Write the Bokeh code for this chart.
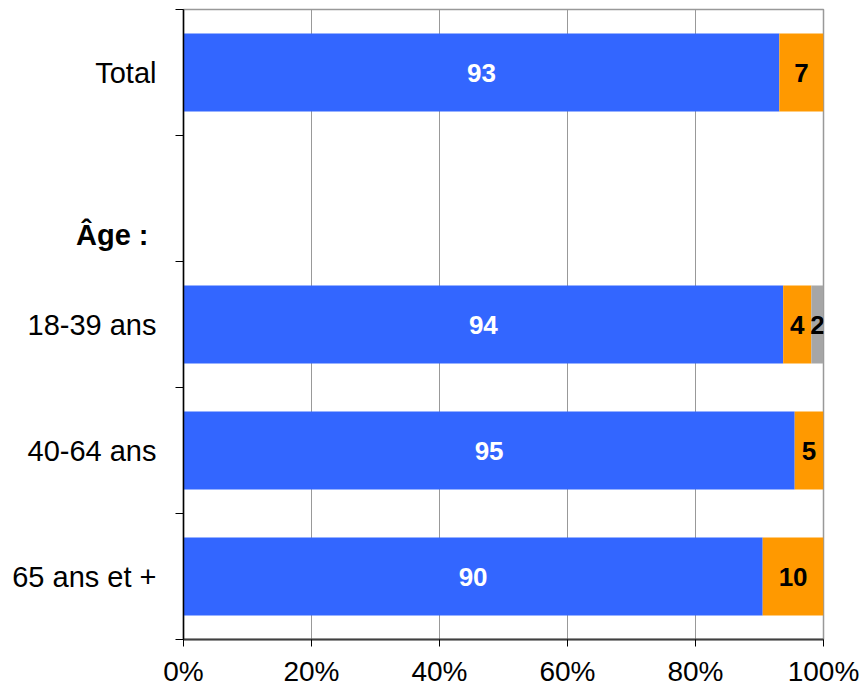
from bokeh.plotting import figure
from bokeh.models import ColumnDataSource, Range1d, FixedTicker, LinearAxis
from bokeh.core.properties import value
from bokeh.embed import file_html
from bokeh.resources import INLINE

# Data
categories = ["Total", "Âge :", "18-39 ans", "40-64 ans", "65 ans et +"]
bar_categories = ["Total", "18-39 ans", "40-64 ans", "65 ans et +"]
blue_vals = [93.1, 93.7, 95.5, 90.5]
orange_vals = [6.9, 4.4, 4.5, 9.5]
gray_vals = [0.0, 1.9, 0.0, 0.0]
blue_labels = ["93", "94", "95", "90"]
orange_labels = ["7", "4", "5", "10"]
gray_labels = ["", "2", "", ""]
x_ticks = [0, 20, 40, 60, 80, 100]
x_tick_labels = ["0%", "20%", "40%", "60%", "80%", "100%"]

FONT = "Liberation Sans"
BLUE = "#3366FF"
ORANGE = "#FF9900"
GRAY = "#A6A6A6"

n = len(categories)
ypos = {c: n - 1 - i for i, c in enumerate(categories)}
bar_y = [ypos[c] for c in bar_categories]

src = ColumnDataSource(dict(y=bar_y, blue=blue_vals, orange=orange_vals, gray=gray_vals))

p = figure(frame_width=640, frame_height=630, output_backend="svg", toolbar_location=None,
           x_range=Range1d(0, 100), y_range=Range1d(-0.5, n - 0.5),
           min_border_left=183, min_border_top=9, min_border_right=38, min_border_bottom=40)
p.background_fill_color = "white"
p.border_fill_color = "white"
p.outline_line_color = "#999999"
p.outline_line_width = 1.5

p.hbar_stack(["blue", "orange", "gray"], y="y", height=0.62, color=[BLUE, ORANGE, GRAY],
             line_color=None, source=src)

# segment labels
def seg_text(starts, vals, labels, color):
    xs, ys, ts = [], [], []
    for s, v, t, y in zip(starts, vals, labels, bar_y):
        if t:
            xs.append(s + v / 2)
            ys.append(y)
            ts.append(t)
    p.text(x=xs, y=ys, text=ts, text_color=color, text_font=value(FONT),
           text_font_style="bold", text_font_size="26px", text_align="center",
           text_baseline="middle")

seg_text([0] * len(blue_vals), blue_vals, blue_labels, "white")
seg_text(blue_vals, orange_vals, orange_labels, "black")
seg_text([b + o for b, o in zip(blue_vals, orange_vals)], gray_vals, gray_labels, "black")

# x axis
p.xaxis.ticker = FixedTicker(ticks=x_ticks)
p.xaxis.major_label_overrides = {t: l for t, l in zip(x_ticks, x_tick_labels)}
p.xaxis.major_label_text_font = FONT
p.xaxis.major_label_text_font_size = "28px"
p.xaxis.major_label_text_color = "black"
p.xaxis.major_tick_out = 7
p.xaxis.major_tick_in = 0
p.xaxis.major_tick_line_color = "black"
p.xaxis.minor_tick_line_color = None
p.xaxis.axis_line_color = "#404040"
p.xaxis.axis_line_width = 2
p.xaxis.major_label_standoff = 9

# y axis (category labels + boundary ticks)
centers = [ypos[c] for c in bar_categories]
bounds = [i - 0.5 for i in range(n + 1)]
p.yaxis.ticker = FixedTicker(ticks=centers, minor_ticks=bounds)
p.yaxis.major_label_overrides = {ypos[c]: c for c in bar_categories}
p.yaxis.major_label_text_font = FONT
p.yaxis.major_label_text_font_size = "29px"
p.yaxis.major_label_text_color = "black"
p.yaxis.major_tick_out = 0
p.yaxis.major_tick_in = 0
p.yaxis.minor_tick_out = 8
p.yaxis.minor_tick_in = 0
p.yaxis.minor_tick_line_color = "black"
p.yaxis.axis_line_color = "black"
p.yaxis.axis_line_width = 1.5
p.yaxis.major_label_standoff = 19

# "Âge :" group label (bold) on an outer axis pulled back toward the frame
age_y = ypos["Âge :"] - 0.29
age_axis = LinearAxis(ticker=FixedTicker(ticks=[age_y], minor_ticks=[]),
                      major_label_overrides={age_y: "Âge :"},
                      major_label_text_font=FONT, major_label_text_font_style="bold",
                      major_label_text_font_size="29px", major_label_text_color="black",
                      major_tick_out=0, major_tick_in=0, minor_tick_out=0, minor_tick_in=0,
                      axis_line_color=None, major_tick_line_color=None,
                      minor_tick_line_color=None, major_label_standoff=-139)
p.add_layout(age_axis, "left")

p.xgrid.ticker = FixedTicker(ticks=x_ticks)
p.xgrid.grid_line_color = "#999999"
p.xgrid.grid_line_width = 1
p.ygrid.grid_line_color = None

open("out.html", "w").write(file_html(p, INLINE))
